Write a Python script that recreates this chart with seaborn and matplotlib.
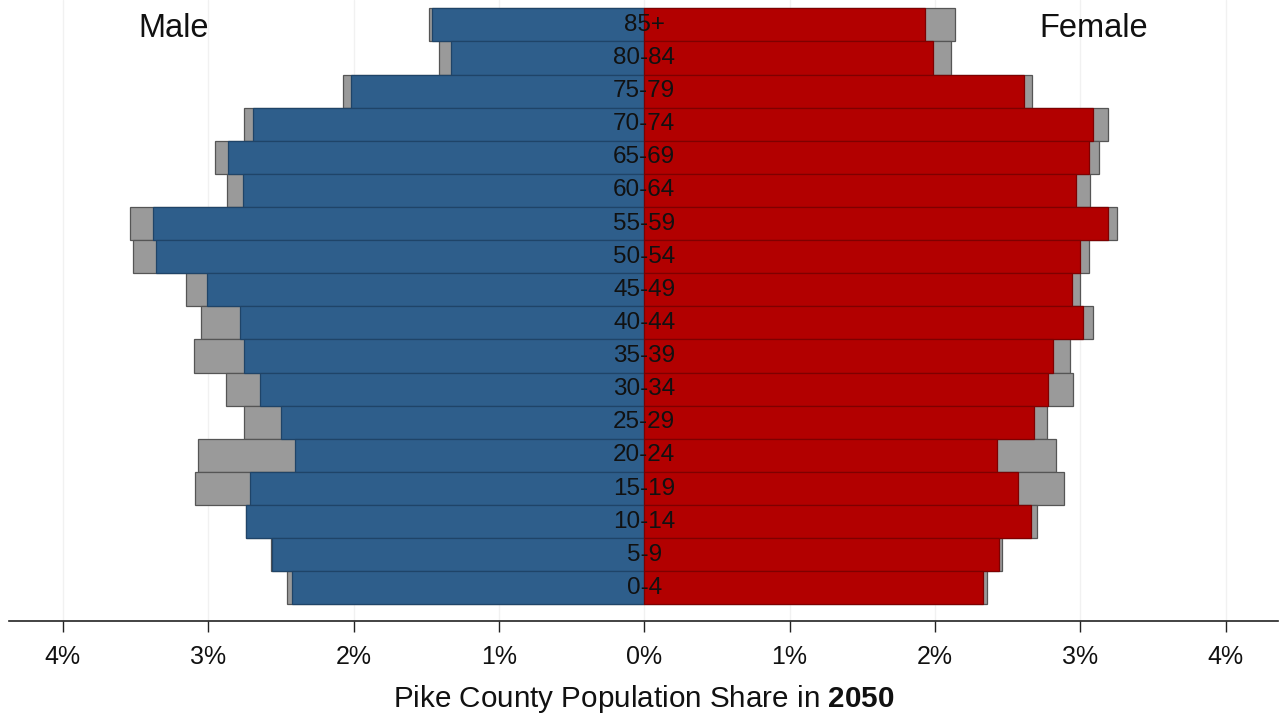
import matplotlib
matplotlib.use("Agg")
import matplotlib.pyplot as plt
import seaborn as sns

# Age groups, bottom to top
ages = ["0-4", "5-9", "10-14", "15-19", "20-24", "25-29", "30-34", "35-39", "40-44",
        "45-49", "50-54", "55-59", "60-64", "65-69", "70-74", "75-79", "80-84", "85+"]

# Population share in % (front bars and grey bars behind)
male = [2.42, 2.56, 2.74, 2.71, 2.40, 2.50, 2.64, 2.75, 2.78,
        3.01, 3.36, 3.38, 2.76, 2.86, 2.69, 2.02, 1.33, 1.46]
male_grey = [2.46, 2.57, 2.74, 3.09, 3.07, 2.75, 2.88, 3.10, 3.05,
             3.15, 3.52, 3.54, 2.87, 2.95, 2.75, 2.07, 1.41, 1.48]
female = [2.33, 2.44, 2.66, 2.57, 2.43, 2.68, 2.78, 2.81, 3.02,
          2.94, 3.00, 3.19, 2.97, 3.06, 3.09, 2.61, 1.99, 1.93]
female_grey = [2.36, 2.46, 2.70, 2.89, 2.83, 2.77, 2.95, 2.93, 3.09,
               3.00, 3.06, 3.25, 3.07, 3.13, 3.19, 2.67, 2.11, 2.14]

ticks = [-4, -3, -2, -1, 0, 1, 2, 3, 4]
tick_labels = ["4%", "3%", "2%", "1%", "0%", "1%", "2%", "3%", "4%"]

BLUE = "#2e5e8b"
RED = "#b20000"
GREY = "#9a9a9a"

sns.set_theme(style="white")
plt.rcParams["font.family"] = ["Liberation Sans", "DejaVu Sans"]
plt.rcParams["mathtext.fontset"] = "custom"
plt.rcParams["mathtext.rm"] = "Liberation Sans"
plt.rcParams["mathtext.bf"] = "Liberation Sans:bold"

fig = plt.figure(figsize=(12.81, 7.17), dpi=100)
ax = fig.add_axes([9 / 1281, 1 - 621 / 717, 1269 / 1281, 621 / 717])

order = ages[::-1]  # 85+ on top

# faint vertical grid
for t in ticks:
    ax.axvline(t, color="#f1f1f1", lw=1, zorder=0)

# grey bars behind
sns.barplot(x=[-v for v in male_grey], y=ages, order=order, orient="h", color=GREY,
            saturation=1, width=1.0, edgecolor="#555555", linewidth=0.9,
            errorbar=None, ax=ax)
sns.barplot(x=female_grey, y=ages, order=order, orient="h", color=GREY,
            saturation=1, width=1.0, edgecolor="#555555", linewidth=0.9,
            errorbar=None, ax=ax)
# main bars
sns.barplot(x=[-v for v in male], y=ages, order=order, orient="h", color=BLUE,
            saturation=1, width=1.0, edgecolor="#1f4468", linewidth=0.9,
            errorbar=None, ax=ax)
sns.barplot(x=female, y=ages, order=order, orient="h", color=RED,
            saturation=1, width=1.0, edgecolor="#7e0000", linewidth=0.9,
            errorbar=None, ax=ax)

# age labels in the middle
for i, a in enumerate(order):
    ax.text(0, i, a, ha="center", va="center", fontsize=17.5, color="#111111", zorder=5)

ax.text(-3.24, 0.12, "Male", ha="center", va="center", fontsize=23.5, color="#111111")
ax.text(3.09, 0.12, "Female", ha="center", va="center", fontsize=23.5, color="#111111")

ax.set_xlim(-4.37, 4.36)
ax.set_ylim(18.0, -0.75)
ax.set_xticks(ticks)
ax.set_xticklabels(tick_labels)
ax.set_yticks([])
ax.set_ylabel("")
ax.set_xlabel("Pike County Population Share in $\\mathbf{2050}$", fontsize=21.3,
              color="#111111", labelpad=10)
ax.tick_params(axis="x", bottom=True, direction="out", length=8, width=1,
               color="#222222", labelsize=18, labelcolor="#111111", pad=9.5)

for s in ["left", "right", "top"]:
    ax.spines[s].set_visible(False)
ax.spines["bottom"].set_color("#222222")
ax.spines["bottom"].set_linewidth(1.2)
ax.set_facecolor("white")

fig.savefig("out.png", dpi=100, facecolor="white")
